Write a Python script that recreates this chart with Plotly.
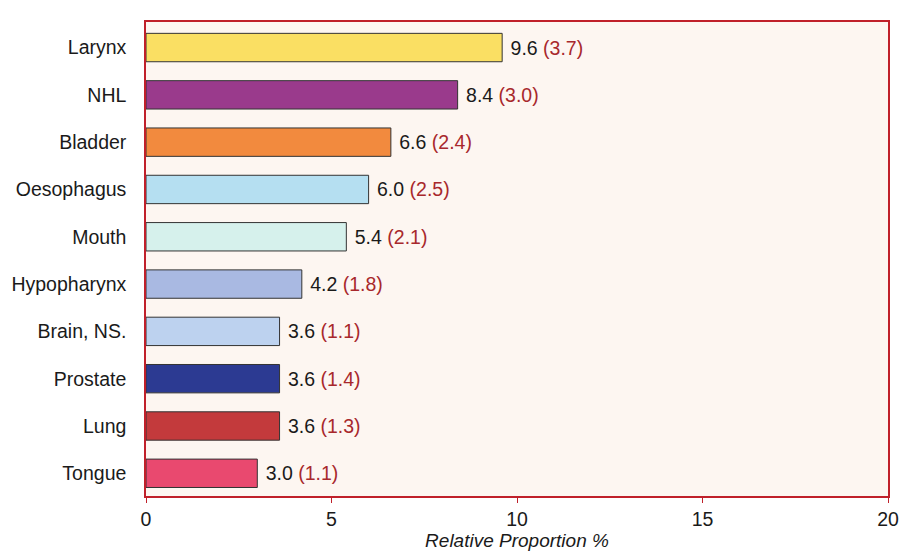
import plotly.graph_objects as go

categories = ["Larynx", "NHL", "Bladder", "Oesophagus", "Mouth", "Hypopharynx",
              "Brain, NS.", "Prostate", "Lung", "Tongue"]
values = [9.6, 8.4, 6.6, 6.0, 5.4, 4.2, 3.6, 3.6, 3.6, 3.0]
errors = [3.7, 3.0, 2.4, 2.5, 2.1, 1.8, 1.1, 1.4, 1.3, 1.1]
colors = ["#fadf63", "#9a3a8c", "#f28a3e", "#b5dff1", "#d6f1ec", "#a9b9e2",
          "#bdd2ef", "#2c3a92", "#c33a3c", "#e9496f"]
x_ticks = [0, 5, 10, 15, 20]

labels = [f"\u00a0{v:.1f} <span style='color:#a8282c'>({e:.1f})</span>" for v, e in zip(values, errors)]

FONT = "Liberation Sans, Arial, Helvetica, sans-serif"

fig = go.Figure(go.Bar(
    x=values, y=categories, orientation="h",
    marker=dict(color=colors, line=dict(color="#333333", width=1)),
    width=0.6,
    text=labels, textposition="outside", cliponaxis=False, constraintext="none",
    textfont=dict(family=FONT, size=19.5, color="#1a1a1a"),
))

fig.update_layout(
    width=903, height=552,
    margin=dict(l=146, r=15, t=22, b=56, autoexpand=False),
    paper_bgcolor="white",
    plot_bgcolor="#fdf6f1",
    font=dict(family=FONT, size=20, color="#1a1a1a"),
    showlegend=False,
    xaxis=dict(
        range=[0, 20], tickvals=x_ticks, ticks="outside", ticklen=5, tickcolor="#c0202a",
        showgrid=False, zeroline=False, showline=True, linecolor="#c0202a", linewidth=1.5,
        mirror=True, automargin=False,
        title=dict(text="<i>Relative Proportion %</i>", font=dict(size=19), standoff=4),
        tickfont=dict(size=19.5),
    ),
    yaxis=dict(
        categoryorder="array", categoryarray=categories[::-1],
        range=[-0.48, 9.54], showgrid=False, zeroline=False, showline=True,
        linecolor="#c0202a", linewidth=1.5, mirror=True, ticks="", ticklabelstandoff=14,
        tickfont=dict(size=19.5), automargin=False,
    ),
)

fig.write_html("out.html", config={"displayModeBar": False},
               post_script="document.body.style.margin='0px';")
